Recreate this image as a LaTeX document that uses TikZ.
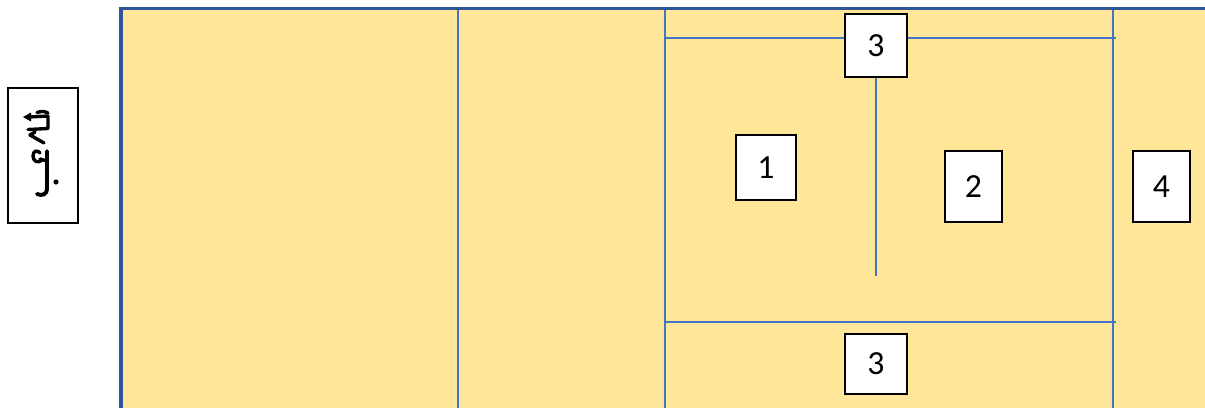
\documentclass[tikz,border=0pt]{standalone}
\usepackage{fontspec}
\setmainfont{Carlito}
\definecolor{fillyellow}{HTML}{FFE699}
\definecolor{darkblue}{HTML}{2F5597}
\definecolor{lineblue}{HTML}{4472C4}
\begin{document}
\begin{tikzpicture}[x=0.025cm,y=-0.025cm,
  numbox/.style={draw=black, fill=white, line width=1.3pt, inner sep=0pt,
    font=\fontsize{24}{28}\selectfont},
  thinline/.style={draw=lineblue, line width=0.9pt},
  glyph/.style={line width=2.4pt, line cap=round, line join=round}]
\useasboundingbox (0,0) rectangle (1205,408);
\begin{scope}
\clip (0,0) rectangle (1205,408);
\fill[fillyellow] (121,8) rectangle (1215,420);
% thin division lines
\draw[thinline] (458,9) -- (458,410);
\draw[thinline] (665,9) -- (665,410);
\draw[thinline] (1113,9) -- (1113,410);
\draw[thinline] (665,38) -- (1116,38);
\draw[thinline] (665,322) -- (1116,322);
\draw[darkblue, line width=2.2pt] (121,412) -- (121,8.5) -- (1210,8.5);
\end{scope}
% numbered boxes
\node[numbox, minimum width=62*0.025cm, minimum height=63*0.025cm] (t3) at (876,45.5) {3};
\node[numbox, minimum width=60*0.025cm, minimum height=65*0.025cm] (n1) at (766,167.5) {1};
\node[numbox, minimum width=57*0.025cm, minimum height=71*0.025cm] (n2) at (973.5,186.5) {2};
\node[numbox, minimum width=57*0.025cm, minimum height=71*0.025cm] (n4) at (1161.5,186.5) {4};
\node[numbox, minimum width=62*0.025cm, minimum height=60*0.025cm] (b3) at (876,364) {3};
\coordinate (midend) at (876,276);
\draw[thinline] (t3.south) -- (midend);
% left label box
\node[draw=black, fill=white, line width=1.3pt, inner sep=0pt,
  minimum width=70*0.025cm, minimum height=135*0.025cm] (lbl) at (43,155.5) {};
% vertical script glyph
\begin{scope}
\draw[glyph] (29,117) -- (48,116) -- (48,128.5) -- (28,129.5);
\draw[glyph] (37,112.5) .. controls (43,111) .. (48,113);
\fill (23,117) -- (31,112.5) -- (31,121.5) -- cycle;
\draw[glyph] (35,132) -- (30,135) -- (44,143);
\draw[glyph] (42,160) .. controls (38,164) and (33,161) .. (33,156)
   .. controls (33,150) and (38,150) .. (40,153);
\draw[glyph] (40,159) -- (47,161);
\draw[line width=2.8pt, line cap=round] (47,151) -- (47,188)
   .. controls (47,195) and (42,196) .. (37,194);
\fill (56,182) circle (2.6);
\end{scope}
\end{tikzpicture}
\end{document}
